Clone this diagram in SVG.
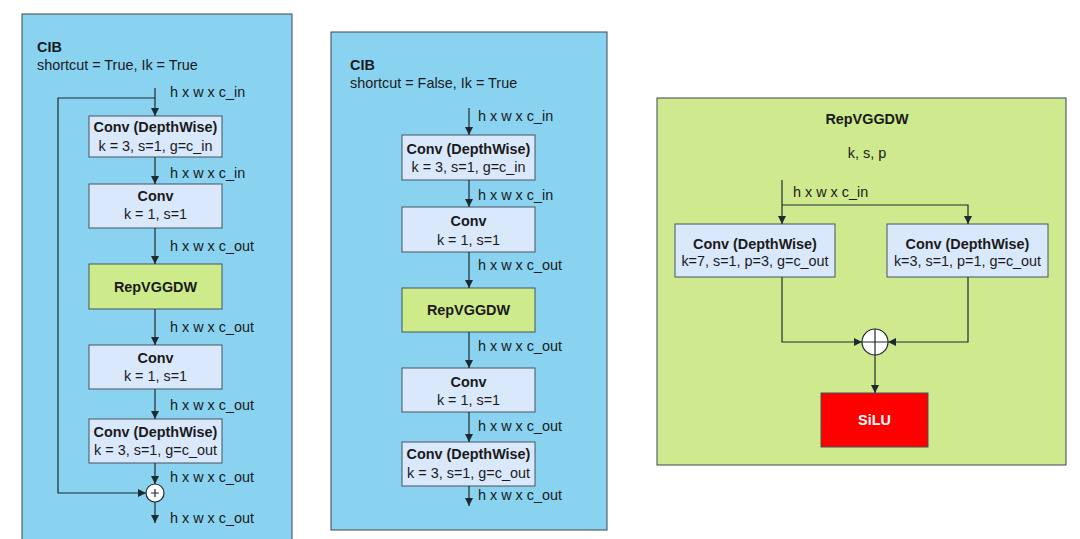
<svg xmlns="http://www.w3.org/2000/svg" width="1080" height="539" viewBox="0 0 1080 539">
<style>
text{font-family:"Liberation Sans",Arial,sans-serif;font-size:14.4px;fill:#1a1a1a}
.b{font-weight:bold}
.c{text-anchor:middle}
.panel{fill:#89D3F1;stroke:#3a4650;stroke-width:1}
.gpanel{fill:#CFEA8E;stroke:#3a4650;stroke-width:1}
.box{fill:#DAE8FC;stroke:#46535f;stroke-width:1}
.gbox{fill:#CDEB8B;stroke:#46535f;stroke-width:1}
.red{fill:#FF0000;stroke:#46535f;stroke-width:1}
.ln{fill:none;stroke:#1f2a30;stroke-width:1.2}
.arr{marker-end:url(#ah)}
.cir{fill:#fff;stroke:#1f2a30;stroke-width:1.2}
</style>
<defs>
<marker id="ah" viewBox="0 0 8 8" refX="8" refY="4" markerWidth="8" markerHeight="8" markerUnits="userSpaceOnUse" orient="auto">
<path d="M0,0 L8,4 L0,8 z" fill="#1f2a30"/>
</marker>
</defs>
<rect width="1080" height="539" fill="#fff"/>

<!-- Left panel -->
<g id="panel-left">
<rect class="panel" x="22" y="14" width="270" height="540"/>
<text class="b" x="37" y="52">CIB</text>
<text x="37" y="70">shortcut = True, Ik = True</text>
</g>
<g id="L-box1"><rect class="box" x="89" y="116" width="133" height="41"/>
<text class="b c" x="155.5" y="132">Conv (DepthWise)</text>
<text class="c" x="155.5" y="151">k = 3, s=1, g=c_in</text></g>
<g id="L-box2"><rect class="box" x="89" y="184" width="133" height="44"/>
<text class="b c" x="155.5" y="201">Conv</text>
<text class="c" x="155.5" y="219">k = 1, s=1</text></g>
<g id="L-box3"><rect class="gbox" x="89" y="264" width="133" height="45"/>
<text class="b c" x="155.5" y="292">RepVGGDW</text></g>
<g id="L-box4"><rect class="box" x="89" y="345" width="133" height="44"/>
<text class="b c" x="155.5" y="363">Conv</text>
<text class="c" x="155.5" y="381">k = 1, s=1</text></g>
<g id="L-box5"><rect class="box" x="89" y="419" width="133" height="44"/>
<text class="b c" x="155.5" y="437">Conv (DepthWise)</text>
<text class="c" x="155.5" y="455">k = 3, s=1, g=c_out</text></g>
<g id="L-plus"><circle class="cir" cx="155" cy="493" r="9"/>
<path class="ln" d="M151,493 H159 M155,489 V497" stroke-width="1"/></g>
<g id="L-labels">
<text x="170" y="97">h x w x c_in</text>
<text x="170" y="178">h x w x c_in</text>
<text x="170" y="251">h x w x c_out</text>
<text x="170" y="332">h x w x c_out</text>
<text x="170" y="410">h x w x c_out</text>
<text x="170" y="482">h x w x c_out</text>
<text x="170" y="523">h x w x c_out</text>
</g>

<!-- Middle panel -->
<g id="panel-mid">
<rect class="panel" x="331" y="32" width="276" height="498"/>
<text class="b" x="350" y="70">CIB</text>
<text x="350" y="88">shortcut = False, Ik = True</text>
</g>
<g id="M-box1"><rect class="box" x="402" y="135" width="133" height="45"/>
<text class="b c" x="468.5" y="154">Conv (DepthWise)</text>
<text class="c" x="468.5" y="172">k = 3, s=1, g=c_in</text></g>
<g id="M-box2"><rect class="box" x="402" y="207" width="133" height="45"/>
<text class="b c" x="468.5" y="226">Conv</text>
<text class="c" x="468.5" y="245">k = 1, s=1</text></g>
<g id="M-box3"><rect class="gbox" x="402" y="288" width="133" height="44"/>
<text class="b c" x="468.5" y="315">RepVGGDW</text></g>
<g id="M-box4"><rect class="box" x="402" y="368" width="133" height="44"/>
<text class="b c" x="468.5" y="387">Conv</text>
<text class="c" x="468.5" y="405">k = 1, s=1</text></g>
<g id="M-box5"><rect class="box" x="402" y="442" width="133" height="44"/>
<text class="b c" x="468.5" y="459">Conv (DepthWise)</text>
<text class="c" x="468.5" y="478">k = 3, s=1, g=c_out</text></g>
<g id="M-labels">
<text x="478" y="121">h x w x c_in</text>
<text x="478" y="200">h x w x c_in</text>
<text x="478" y="270">h x w x c_out</text>
<text x="478" y="351">h x w x c_out</text>
<text x="478" y="431">h x w x c_out</text>
<text x="478" y="500">h x w x c_out</text>
</g>

<!-- Right panel -->
<g id="panel-right">
<rect class="gpanel" x="657" y="98" width="409" height="367"/>
<text class="b c" x="867" y="124">RepVGGDW</text>
<text class="c" x="867" y="158">k, s, p</text>
<text x="793" y="197">h x w x c_in</text>
</g>
<g id="R-box1"><rect class="box" x="675" y="224" width="160" height="53"/>
<text class="b c" x="755" y="249">Conv (DepthWise)</text>
<text class="c" x="755" y="266">k=7, s=1, p=3, g=c_out</text></g>
<g id="R-box2"><rect class="box" x="887" y="224" width="161" height="53"/>
<text class="b c" x="967.5" y="249">Conv (DepthWise)</text>
<text class="c" x="967.5" y="266">k=3, s=1, p=1, g=c_out</text></g>
<g id="R-plus"><circle class="cir" cx="875" cy="342" r="13"/>
<path class="ln" d="M862,342 H888 M875,329 V355" stroke-width="1"/></g>
<g id="R-silu"><rect class="red" x="821" y="393" width="107" height="54"/>
<text class="b c" x="874.5" y="425" style="fill:#fff">SiLU</text></g>

<g id="connectors">
<path class="ln arr" d="M155,88 V116"/>
<path class="ln arr" d="M155,157 V184"/>
<path class="ln arr" d="M155,228 V264"/>
<path class="ln arr" d="M155,309 V345"/>
<path class="ln arr" d="M155,389 V419"/>
<path class="ln arr" d="M155,463 V484"/>
<path class="ln arr" d="M155,502 V523"/>
<path class="ln arr" d="M155,98 H58 V493 H146"/>
<path class="ln arr" d="M469,108 V135"/>
<path class="ln arr" d="M469,180 V207"/>
<path class="ln arr" d="M469,252 V288"/>
<path class="ln arr" d="M469,332 V368"/>
<path class="ln arr" d="M469,412 V442"/>
<path class="ln arr" d="M469,486 V506"/>
<path class="ln arr" d="M782,180 V224"/>
<path class="ln arr" d="M782,205 H968 V224"/>
<path class="ln arr" d="M782,277 V342 H862"/>
<path class="ln arr" d="M968,277 V342 H888"/>
<path class="ln arr" d="M875,355 V393"/>
</g>
</svg>
